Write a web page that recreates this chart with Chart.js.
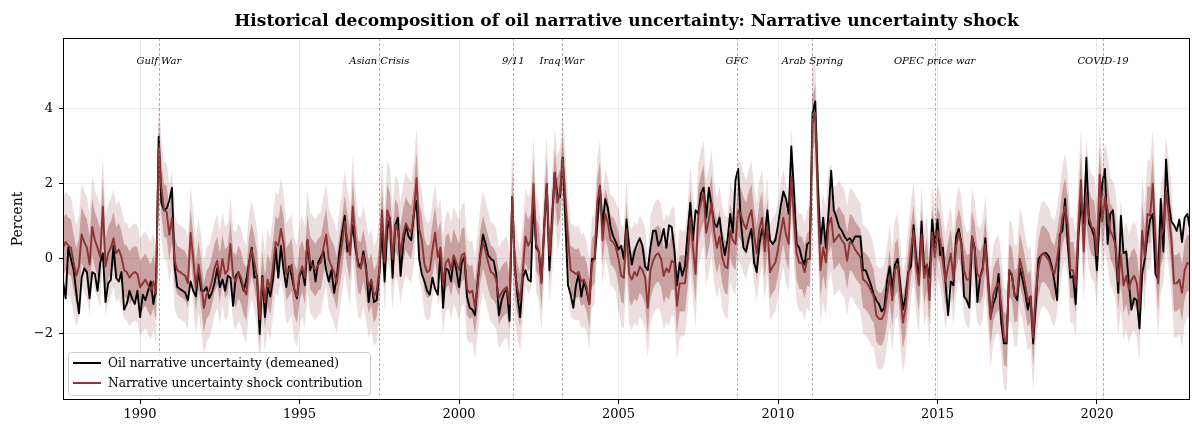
<!DOCTYPE html>
<html>
<head>
<meta charset="utf-8">
<script src="https://cdn.jsdelivr.net/npm/chart.js@4.4.1/dist/chart.umd.min.js"></script>
<style>
  html, body { margin: 0; padding: 0; background: #ffffff; }
  #wrap { width: 1192px; height: 426px; }
</style>
</head>
<body>
<div id="wrap"><canvas id="c" width="1192" height="426"></canvas></div>
<script>
// Monthly sample: Aug 1987 .. Dec 2022
const startYear = 1987;
const startMonth = 8;

// Oil narrative uncertainty (demeaned), percent
const oilUncertainty = [
  -0.6, -1.05, 0.3, 0.0, -0.3, -0.9, -1.45, -0.5, -0.25, -0.35, -1.05, -0.35,
  -0.4, -0.85, -0.1, 0.15, -1.15, -0.65, -0.55, 0.35, -0.5, -0.6, -0.35, -1.35,
  -1.2, -0.85, -1.05, -1.2, -0.85, -1.55, -0.95, -1.1, -0.85, -0.6, -1.2, -0.8,
  3.26, 1.5, 1.3, 1.35, 1.55, 1.9, -0.2, -0.75, -0.8, -0.85, -0.9, -1.1,
  -0.6, -0.85, -1.0, -0.3, -0.85, -0.85, -0.75, -1.05, -0.9, -0.65, -0.25, -0.75,
  -0.55, -0.85, -0.45, -0.5, -1.25, -0.45, -0.35, -0.6, -0.85, -0.55, -0.1, 0.3,
  -0.5, -0.45, -2.0, -0.45, -1.55, -0.75, -1.0, -0.55, 0.3, -0.5, 0.35, -0.3,
  -0.75, -0.2, -0.45, -0.8, -1.05, -0.45, -0.3, -0.7, 0.5, -0.3, -0.05, -0.6,
  -0.1, 0.05, 0.2, -0.3, -0.6, -0.3, -0.9, -0.5, 0.2, 0.7, 1.15, 0.2,
  0.35, 0.9, 0.3, -0.1, -0.25, 0.2, -0.2, -1.15, -0.6, -1.15, -1.1, -0.4,
  0.8, -0.6, 0.8, 1.1, -0.5, 0.9, 1.1, -0.45, 0.4, 0.9, 0.6, 0.5,
  1.2, 1.55, 0.0, -0.4, -0.6, -0.85, -0.95, -0.5, -0.8, -0.95, 0.2, -1.3,
  -0.25, -0.3, -0.6, 0.05, -0.3, -0.75, -0.1, 0.05, -1.0, -1.3, -1.35, -1.5,
  -0.6, 0.1, 0.65, 0.4, 0.1, 0.0, -0.05, -0.4, -1.5, -1.1, -0.9, -0.8,
  -1.65, 1.65, -0.2, -1.0, -1.55, -0.5, -0.3, -0.55, -0.6, 1.6, 0.3, 0.2,
  -0.6, 0.8, 2.0, -0.3, 1.1, 2.3, 1.7, 1.65, 2.7, 1.0, -0.7, -0.95,
  -1.3, -0.7, -0.4, -1.0, -0.6, -0.85, -1.2, 0.0, 0.0, 0.9, 1.95, 0.9,
  1.6, 1.35, 0.85, 0.6, 0.45, 0.25, 0.35, 0.0, 1.05, 0.35, -0.15, 0.2,
  0.4, 0.55, 0.35, -0.2, -0.3, 0.3, 0.75, 0.75, 0.35, 0.5, 0.8, 0.3,
  0.9, 0.85, 0.25, -0.7, -0.1, -0.45, -0.2, 0.7, 1.5, 0.5, 1.3, 1.2,
  1.75, 1.9, 1.1, 1.9, 1.4, 0.95, 0.85, 1.1, 0.5, 0.1, 0.5, 1.2,
  0.7, 2.1, 2.4, 1.0, 0.3, 0.2, 0.55, 0.8, -0.1, -0.35, 0.4, 0.8,
  0.5, 1.3, 0.5, 0.4, 0.5, 0.9, 1.4, 1.8, 1.6, 1.2, 3.0, 1.8,
  0.4, 0.3, 0.0, -0.15, 0.4, 0.45, 3.9, 4.2, 2.0, 0.4, 1.1, 0.3,
  1.2, 2.35, 1.3, 1.1, 0.85, 0.75, 0.6, 0.5, 0.55, 0.45, 0.6, 0.6,
  0.6, -0.3, -0.3, -0.5, -0.7, -0.95, -1.1, -1.2, -1.4, -1.3, -0.6, -0.2,
  -0.8, -0.15, 0.0, -0.7, -1.35, -1.0, -0.35, -0.2, 0.9, 0.0, -0.5, 1.0,
  -0.3, -0.15, -0.5, 1.05, 0.3, 1.05, 0.1, 0.3, -0.6, -1.5, -0.6, -0.7,
  0.6, 0.8, 0.4, -1.0, -1.1, -1.3, 0.6, 0.3, -1.15, -0.5, -0.25, 0.55,
  -0.5, -1.5, -1.2, -1.0, -0.4, -1.7, -2.25, -2.25, -0.3, -0.45, -0.95, -1.1,
  -0.25, -0.55, -0.9, -1.35, -1.0, -2.25, -1.2, 0.0, 0.1, 0.15, 0.15, 0.05,
  -0.2, -0.6, -1.1, 0.65, 0.75, 1.6, 0.4, -0.5, -0.45, -1.2, 0.6, 1.5,
  0.95, 2.7, 0.95, 0.8, 0.6, -0.3, 1.05, 2.0, 2.4, 0.4, 1.2, 1.3,
  0.3, -0.9, 1.15, 0.15, 0.2, -0.65, -1.35, -1.05, -1.1, -1.85, -0.4, 0.0,
  0.6, 1.05, 1.2, -0.4, -0.55, 1.6, 0.2, 2.65, 1.5, 1.0, 0.9, 0.75,
  1.05, 0.45, 1.1, 1.2, 0.8
];

// Contribution of the narrative uncertainty shock (posterior median), percent
const shockContribution = [
  0.3, 0.45, 0.35, 0.3, -0.1, -0.45, -0.2, 0.65, 0.45, 0.3, -0.15, 0.85,
  0.5, 0.3, 0.05, 1.4, -0.2, 0.15, 0.3, 0.55, 0.15, 0.25, 0.05, -0.3,
  -0.35, -0.5, -0.4, -0.35, -0.4, -0.75, -0.65, -0.55, -0.7, -0.85, -0.6, -0.95,
  3.0, 1.9, 1.3, 1.25, 0.65, 1.1, -0.05, -0.3, -0.35, -0.4, -0.45, -0.65,
  0.7, 0.0, -0.75, -0.15, -0.65, -1.3, -0.95, -0.85, -0.6, -0.25, -0.05, -0.5,
  0.0, -0.4, -0.3, 0.4, -0.45, -0.6, -0.35, -0.5, -0.8, -0.95, -0.1, 0.25,
  -0.1, -0.5, -1.6, -0.5, -1.15, -0.55, -0.8, -0.2, 0.45, 0.35, 0.8, 0.4,
  -0.4, -0.3, -0.15, -0.8, -1.0, -0.4, -0.2, -0.5, 0.5, -0.1, -0.2, -0.3,
  -0.15, -0.1, 0.3, 0.65, 0.0, -0.2, -0.35, -0.65, -0.05, 0.4, 1.0, 0.5,
  0.1, 1.4, 0.5, -0.2, -0.25, 0.1, -0.3, -0.75, -0.55, -1.0, -0.85, -0.3,
  1.3, -0.1, 1.3, 1.05, 0.0, 0.9, 0.75, 0.15, 0.65, 0.95, 0.8, 0.7,
  1.2, 2.15, 0.8, 0.5, -0.15, -0.35, -0.3, 0.25, 0.7, 0.05, 0.3, -0.7,
  -0.1, 0.0, -0.3, 0.1, -0.1, -0.3, 0.1, 0.15, -0.8, -0.9, -0.85, -1.3,
  -0.7, 0.05, 0.45, 0.2, -0.1, -0.35, -0.4, -0.55, -1.05, -0.9, -0.8, -0.75,
  -1.2, 1.65, -0.35, -0.8, -1.1, -0.3, 0.6, 0.35, 0.5, 2.0, 0.4, 0.2,
  -0.65, 0.8, 2.0, 0.1, 0.9, 2.3, 1.5, 1.75, 2.65, 1.6, 0.5, -0.3,
  -0.35, -0.4, -0.35, -0.6, -0.55, -0.75, -1.2, -0.1, 0.0, 1.5, 1.95, 0.5,
  1.2, 0.95, 0.5, 0.45, 0.3, 0.0, -0.45, -0.5, 0.8, -0.4, -0.55, -0.35,
  -0.45, -0.2, -0.3, -0.5, -1.3, -0.3, -0.05, 0.1, 0.15, 0.0, -0.45, -0.25,
  -0.35, -0.05, -0.1, -1.25, -0.65, -0.65, -0.65, 0.0, 1.1, 0.3, -0.4, 1.15,
  1.5, 1.75, 0.7, 1.05, 1.5, 0.7, 0.3, 0.6, 0.05, -0.2, -0.25, 0.75,
  0.5, 0.4, 1.3, 1.2, 0.95, 0.8, 1.1, 1.3, 0.65, 0.15, 0.8, 1.1,
  0.2, 0.9, -0.35, -0.2, -0.1, 0.25, 0.7, 1.1, 0.65, 0.4, 2.2, 1.1,
  0.15, -0.1, -0.1, -0.35, 0.0, 0.0, 3.6, 3.9, 1.5, -0.3, 0.3, -0.1,
  0.9, 1.1, 0.45, 0.55, 0.65, 0.5, 0.4, -0.05, 0.45, 0.4, 0.25, 0.15,
  0.05, -0.55, -0.6, -0.7, -0.85, -1.0, -1.5, -1.6, -1.6, -1.45, -1.0, -0.45,
  -1.1, -0.3, -0.15, -0.9, -1.7, -1.3, -0.45, 0.2, 0.75, -0.2, -0.7, 0.65,
  -0.5, -0.15, -1.1, 0.7, 0.05, 0.75, 0.5, -0.05, -0.6, -0.2, 0.15, -0.55,
  0.35, 0.7, 0.4, -0.3, -0.55, -0.55, 0.6, 0.25, -0.4, -0.5, -0.3, 0.4,
  -0.6, -1.6, -0.95, -0.75, -0.65, -1.25, -2.1, -2.2, -0.3, -0.4, -1.0, -0.95,
  0.0, -0.3, -0.7, -1.1, -1.0, -2.1, -0.9, -0.25, 0.1, 0.15, 0.05, -0.05,
  -0.3, -0.4, 0.0, 0.5, 1.1, 1.4, 0.9, -0.3, -0.3, -0.7, 0.8, 2.1,
  0.2, 1.75, 1.1, 0.85, 0.8, 0.1, 2.25, 1.0, 1.65, 1.3, 0.75, 0.6,
  0.35, -0.6, 0.1, -0.7, -0.45, -0.8, -0.55, -0.45, -0.65, -1.3, 0.75, 0.05,
  1.2, 1.15, 2.0, 0.5, -0.65, 0.55, 0.8, 1.8, 1.2, 0.5, -0.65, -0.65,
  -0.55, -0.9, -0.3, -0.1, -0.15
];

// Half-width of the credible bands around the contribution, by calendar year 1987..2022
const bandYears = [1987, 2022];
const innerHalfWidth = [
  0.75, 0.75, 0.7, 0.7, 0.65, 0.65, 0.7, 0.7, 0.7, 0.7, 0.7, 0.7,
  0.7, 0.7, 0.7, 0.7, 0.65, 0.65, 0.7, 0.75, 0.75, 0.7, 0.7, 0.7,
  0.75, 0.75, 0.7, 0.7, 0.65, 0.7, 0.7, 0.75, 0.75, 0.75, 0.75, 0.75
];
const outerHalfWidth = [
  1.35, 1.35, 1.3, 1.3, 1.25, 1.25, 1.3, 1.35, 1.35, 1.35, 1.35, 1.35,
  1.3, 1.35, 1.35, 1.3, 1.25, 1.2, 1.35, 1.45, 1.4, 1.35, 1.3, 1.3,
  1.45, 1.45, 1.35, 1.3, 1.25, 1.3, 1.35, 1.4, 1.4, 1.45, 1.45, 1.45
];

// Event markers (decimal year)
const eventNames = ['Gulf War', 'Asian Crisis', '9/11', 'Iraq War', 'GFC', 'Arab Spring', 'OPEC price war', 'COVID-19'];
const eventDates = [1990.59, 1997.50, 2001.70, 2003.22, 2008.71, 2011.08, 2014.91, 2020.19];

const xTickYears = [1990, 1995, 2000, 2005, 2010, 2015, 2020];
const yTicks = [-2, 0, 2, 4];

const seriesNames = ['Oil narrative uncertainty (demeaned)', 'Narrative uncertainty shock contribution'];
const chartTitle = 'Historical decomposition of oil narrative uncertainty: Narrative uncertainty shock';

// ---- build points ----
const monthX = oilUncertainty.map((_, i) => {
  const m = startMonth - 1 + i;
  return startYear + Math.floor(m / 12) + (m % 12) / 12;
});
const yearIdx = i => Math.floor((startMonth - 1 + i) / 12) + startYear - bandYears[0];
const pts = arr => arr.map((v, i) => ({ x: monthX[i], y: v }));
const band = (w, sign) => shockContribution.map((v, i) => ({ x: monthX[i], y: v + sign * w[yearIdx(i)] }));

const RED = 'rgb(139, 52, 52)';
const SERIF = '"DejaVu Serif", "Liberation Serif", serif';

const decorations = {
  id: 'decorations',
  afterDatasetsDraw(chart) {
    const { ctx, chartArea: a, scales } = chart;
    ctx.save();
    // event lines
    ctx.strokeStyle = 'rgba(120,120,120,0.75)';
    ctx.lineWidth = 0.8;
    ctx.setLineDash([3, 2]);
    eventDates.forEach(d => {
      const x = Math.round(scales.x.getPixelForValue(d)) + 0.5;
      ctx.beginPath(); ctx.moveTo(x, a.top); ctx.lineTo(x, a.bottom); ctx.stroke();
    });
    ctx.setLineDash([]);
    ctx.fillStyle = '#000';
    ctx.font = 'italic 10px ' + SERIF;
    ctx.textAlign = 'center';
    ctx.textBaseline = 'middle';
    eventDates.forEach((d, k) => {
      ctx.fillText(eventNames[k], scales.x.getPixelForValue(d), 61);
    });

    // legend
    const lx = 68, ly = 352, lw = 302, lh = 43;
    ctx.fillStyle = 'rgba(255,255,255,0.8)';
    ctx.strokeStyle = '#cccccc';
    ctx.lineWidth = 1;
    ctx.beginPath();
    ctx.roundRect(lx + 0.5, ly + 0.5, lw, lh, 3);
    ctx.fill(); ctx.stroke();
    const rows = [{ c: '#000', y: 363 }, { c: RED, y: 383 }];
    ctx.lineWidth = 2;
    ctx.font = '12.2px ' + SERIF;
    ctx.textAlign = 'left';
    ctx.textBaseline = 'middle';
    rows.forEach((r, k) => {
      ctx.strokeStyle = r.c;
      ctx.beginPath(); ctx.moveTo(73, r.y); ctx.lineTo(101, r.y); ctx.stroke();
      ctx.fillStyle = '#000';
      ctx.fillText(seriesNames[k], 108, r.y + 0.5);
    });
    ctx.restore();
  },
  afterDraw(chart) {
    const { ctx, chartArea: a } = chart;
    ctx.save();
    // frame
    ctx.strokeStyle = '#000';
    ctx.lineWidth = 1;
    ctx.strokeRect(a.left + 0.5, a.top + 0.5, a.right - a.left - 1, a.bottom - a.top - 1);
    // title
    ctx.fillStyle = '#000';
    ctx.font = 'bold 17px ' + SERIF;
    ctx.textAlign = 'center';
    ctx.textBaseline = 'middle';
    ctx.fillText(chartTitle, (a.left + a.right) / 2, 22);
    // y label
    ctx.font = '14px ' + SERIF;
    ctx.translate(18, (a.top + a.bottom) / 2);
    ctx.rotate(-Math.PI / 2);
    ctx.fillText('Percent', 0, 0);
    ctx.restore();
  }
};

new Chart(document.getElementById('c'), {
  type: 'line',
  data: {
    datasets: [
      { label: seriesNames[1], data: pts(shockContribution), borderColor: RED, borderWidth: 1.9, pointRadius: 0, fill: false, borderJoinStyle: 'round' },
      { label: seriesNames[0], data: pts(oilUncertainty), borderColor: '#000', borderWidth: 1.9, pointRadius: 0, fill: false, borderJoinStyle: 'round' },
      { label: 'inner upper', data: band(innerHalfWidth, 1), borderWidth: 0, pointRadius: 0, backgroundColor: 'rgba(139,52,52,0.36)', fill: '+1' },
      { label: 'inner lower', data: band(innerHalfWidth, -1), borderWidth: 0, pointRadius: 0, fill: false },
      { label: 'outer upper', data: band(outerHalfWidth, 1), borderWidth: 0, pointRadius: 0, backgroundColor: 'rgba(139,52,52,0.16)', fill: '+1' },
      { label: 'outer lower', data: band(outerHalfWidth, -1), borderWidth: 0, pointRadius: 0, fill: false }
    ]
  },
  options: {
    responsive: false,
    animation: false,
    devicePixelRatio: 1,
    parsing: false,
    normalized: true,
    layout: { padding: { top: 38, right: 2, left: 0, bottom: 0 } },
    elements: { line: { tension: 0 } },
    plugins: { legend: { display: false }, title: { display: false }, tooltip: { enabled: false } },
    scales: {
      x: {
        type: 'linear',
        min: monthX[0],
        max: monthX[monthX.length - 1],
        afterFit: s => { s.height = 26; },
        afterBuildTicks: s => { s.ticks = xTickYears.map(v => ({ value: v })); },
        ticks: { font: { family: SERIF, size: 13 }, color: '#000', padding: 3, maxRotation: 0, callback: v => String(v) },
        grid: { color: '#e9e9e9', lineWidth: 1, tickColor: '#000', tickLength: 4 },
        border: { display: false }
      },
      y: {
        min: -3.76,
        max: 5.89,
        afterFit: s => { s.width = 63; },
        afterBuildTicks: s => { s.ticks = yTicks.map(v => ({ value: v })); },
        ticks: { font: { family: SERIF, size: 13 }, color: '#000', padding: 6, callback: v => (v < 0 ? '\u2212' + Math.abs(v) : String(v)) },
        grid: { color: '#e9e9e9', lineWidth: 1, tickColor: '#000', tickLength: 4 },
        border: { display: false }
      }
    }
  },
  plugins: [decorations]
});
</script>
</body>
</html>
